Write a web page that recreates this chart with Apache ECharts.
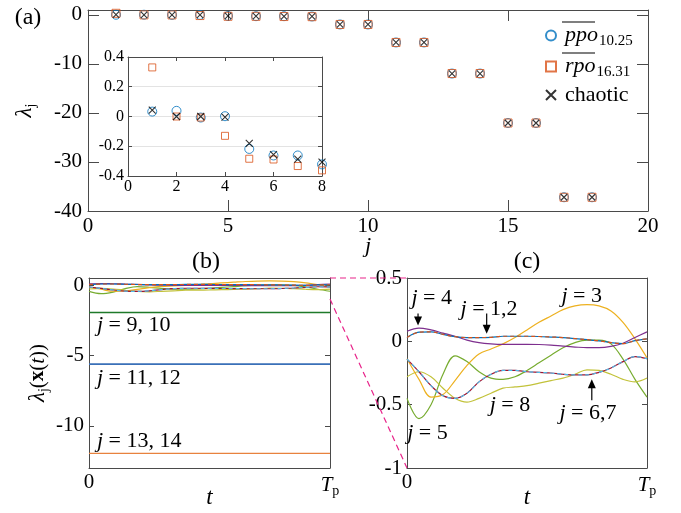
<!DOCTYPE html>
<html><head><meta charset="utf-8">
<script src="https://cdn.jsdelivr.net/npm/echarts@6/dist/echarts.min.js"></script>
<style>html,body{margin:0;padding:0;background:#fff}#c{width:681px;height:513px}</style>
</head><body><div id="c"></div>
<script>
// ---------- data ----------
const jMain = [1,2,3,4,5,6,7,8,9,10,11,12,13,14,15,16,17,18];
const ppoMain = [0.033,0.038,-0.007,0.002,-0.218,-0.262,-0.262,-0.322,-1.95,-1.95,-5.62,-5.62,-11.96,-11.96,-22.05,-22.05,-37.2,-37.2];
const rpoMain = [0.33,0.0,-0.007,-0.13,-0.284,-0.289,-0.333,-0.362,-1.95,-1.95,-5.62,-5.62,-11.96,-11.96,-22.05,-22.05,-37.2,-37.2];
const chaoticMain = [0.043,0.0,0.0,-0.004,-0.18,-0.256,-0.287,-0.306,-1.954,-1.954,-5.621,-5.621,-11.956,-11.956,-22.047,-22.048,-37.197,-37.198];
const jInset = [1,2,3,4,5,6,7,8];

const tGrid = [0,0.05,0.1,0.15,0.2,0.25,0.3,0.35,0.4,0.45,0.5,0.55,0.6,0.65,0.7,0.75,0.8,0.85,0.9,0.95,1];
const lam12 = [0.03,0.072,0.075,0.055,0.037,0.03,0.03,0.032,0.04,0.04,0.04,0.038,0.034,0.03,0.022,0.013,0.004,-0.01,-0.018,0.005,0.02];
const lam3  = [-0.137,-0.3,-0.44,-0.42,-0.31,-0.19,-0.1,-0.06,-0.02,0.03,0.09,0.15,0.2,0.25,0.28,0.29,0.28,0.24,0.15,0.02,-0.13];
const lam4  = [0.08,0.105,0.09,0.065,0.04,0.01,-0.01,-0.02,-0.024,-0.024,-0.024,-0.025,-0.03,-0.038,-0.045,-0.05,-0.05,-0.04,-0.015,0.03,0.075];
const lam5  = [-0.45,-0.61,-0.5,-0.26,-0.115,-0.16,-0.24,-0.29,-0.3,-0.28,-0.23,-0.17,-0.11,-0.05,-0.01,0.01,0.01,-0.02,-0.14,-0.3,-0.44];
const lam67 = [-0.14,-0.24,-0.35,-0.43,-0.45,-0.41,-0.32,-0.26,-0.23,-0.23,-0.24,-0.245,-0.25,-0.26,-0.265,-0.265,-0.245,-0.21,-0.16,-0.12,-0.137];
const lam8  = [-0.28,-0.24,-0.28,-0.37,-0.45,-0.48,-0.45,-0.41,-0.37,-0.36,-0.35,-0.33,-0.31,-0.29,-0.26,-0.225,-0.23,-0.26,-0.3,-0.32,-0.29];
const tFlat = [0,0.5,1];
const lam910  = [-1.95,-1.95,-1.95];
const lam1112 = [-5.62,-5.62,-5.62];
const lam1314 = [-11.96,-11.96,-11.96];

// ---------- style ----------
const F = "'Liberation Serif', 'Times New Roman', serif";
const AX = '#4a4a4a';
const TXT = '#000';
const C = {blue:'#0072BD', orange:'#D95319', yellow:'#EDB120', purple:'#7E2F8E', green:'#77AC30', cyan:'#4DBEEE', dred:'#A2142F', olive:'#C2C23A', dgreen:'#1F7A2A', lblue:'#3A70B8', lorange:'#E8823E'};

const chart = echarts.init(document.getElementById('c'), null, {renderer:'canvas', width:681, height:513});

const subRich = {
  i:{fontFamily:F, fontStyle:'italic', fontSize:21, color:TXT},
  s:{fontFamily:F, fontSize:14, color:TXT, padding:[12,0,0,0]},
  n:{fontFamily:F, fontSize:21, color:TXT},
  b:{fontFamily:F, fontSize:21, fontWeight:'bold', color:TXT},
  l:{fontFamily:F, fontStyle:'italic', fontSize:23, color:TXT}
};
const tpFmt = v => v === 0 ? '{n|0}' : '{i|T}{s|p}';

function xAx(gi, min, max, interval, tickLen, fs, extra) {
  return Object.assign({
    type:'value', gridIndex:gi, min, max, interval,
    axisLine:{show:true, onZero:false, lineStyle:{color:AX, width:1}},
    axisTick:{show:true, inside:true, length:tickLen, lineStyle:{color:AX}},
    axisLabel:{show:true, fontFamily:F, fontSize:fs, color:TXT, margin:5},
    splitLine:{show:false}
  }, extra || {});
}
function yAx(gi, min, max, interval, tickLen, fs, extra) {
  return Object.assign({
    type:'value', gridIndex:gi, min, max, interval,
    axisLine:{show:true, onZero:false, lineStyle:{color:AX, width:1}},
    axisTick:{show:true, inside:true, length:tickLen, lineStyle:{color:AX}},
    axisLabel:{show:true, fontFamily:F, fontSize:fs, color:TXT, margin:6},
    splitLine:{show:false}
  }, extra || {});
}
function mirrorX(gi, min, max, interval, tickLen, custom) {
  const a = xAx(gi, min, max, interval, tickLen, 10, {position:'top'});
  a.axisLabel = {show:false};
  if (custom) a.axisTick.customValues = custom;
  return a;
}
function mirrorY(gi, min, max, interval, tickLen, custom) {
  const a = yAx(gi, min, max, interval, tickLen, 10, {position:'right'});
  a.axisLabel = {show:false};
  if (custom) a.axisTick.customValues = custom;
  return a;
}

const yTicksA = [-40,-30,-20,-10,0];
const yTicksB = [-10,-5,0];
const tName = {name:'t', nameLocation:'middle', nameGap:18, nameMoveOverlap:false,
      nameTextStyle:{fontFamily:F, fontStyle:'italic', fontSize:23, color:TXT, verticalAlign:'top'}};

const xAxis = [
  xAx(0, 0, 20, 5, 11, 21, {name:'j', nameLocation:'middle', nameGap:24, nameMoveOverlap:false,
      nameTextStyle:{fontFamily:F, fontStyle:'italic', fontSize:22, color:TXT, verticalAlign:'top'}}),
  xAx(1, 0, 8, 2, 4, 16, {axisLabel:{fontFamily:F, fontSize:16, color:TXT, margin:3}}),
  xAx(2, 0, 1, 1, 5, 21, Object.assign({}, tName,
      {axisLabel:{fontFamily:F, fontSize:21, color:TXT, margin:4, formatter:tpFmt, rich:subRich}})),
  xAx(3, 0, 1, 1, 5, 21, Object.assign({}, tName,
      {axisLabel:{fontFamily:F, fontSize:21, color:TXT, margin:4, formatter:tpFmt, rich:subRich}})),
  mirrorX(0, 0, 20, 5, 11),
  mirrorX(1, 0, 8, 2, 4),
  mirrorX(2, 0, 1, 1, 5),
  mirrorX(3, 0, 1, 1, 5)
];
const yAxis = [
  yAx(0, -40, 1, 10, 11, 21, {
      axisLabel:{fontFamily:F, fontSize:21, color:TXT, margin:6, customValues:yTicksA},
      axisTick:{show:true, inside:true, length:11, lineStyle:{color:AX}, customValues:yTicksA},
      name:'{l|λ}{s|j}', nameLocation:'middle', nameGap:50, nameMoveOverlap:false,
      nameTextStyle:{rich:subRich}}),
  yAx(1, -0.4, 0.4, 0.2, 4, 16, {
      axisLabel:{fontFamily:F, fontSize:16, color:TXT, margin:4},
      splitLine:{show:true, lineStyle:{color:'#e3e3e3', width:1}}}),
  yAx(2, -13, 0.5, 5, 5, 21, {
      axisLabel:{fontFamily:F, fontSize:21, color:TXT, margin:5, customValues:yTicksB},
      axisTick:{show:true, inside:true, length:5, lineStyle:{color:AX}, customValues:yTicksB},
      name:'{l|λ}{s|j}{n|(}{b|x}{n|(}{i|t}{n|))}', nameLocation:'middle', nameGap:38, nameMoveOverlap:false,
      nameTextStyle:{rich:subRich}}),
  yAx(3, -1, 0.5, 0.5, 5, 21, {
      axisLabel:{fontFamily:F, fontSize:21, color:TXT, margin:5}}),
  mirrorY(0, -40, 1, 10, 11, yTicksA),
  mirrorY(1, -0.4, 0.4, 0.2, 4),
  mirrorY(2, -13, 0.5, 5, 5, yTicksB),
  mirrorY(3, -1, 0.5, 0.5, 5)
];

const grid = [
  {left:88, top:10, width:560, height:201, outerBoundsMode:'none'},
  {left:128, top:57, width:194, height:119, outerBoundsMode:'none'},
  {left:89, top:278, width:241, height:190, outerBoundsMode:'none'},
  {left:407, top:278, width:240, height:190, outerBoundsMode:'none'}
];

const xPath = 'path://M0,0L10,10M10,0L0,10';
function markers(axisIdx, js, sizes, z) {
  return [
    {type:'scatter', name:'ppo', xAxisIndex:axisIdx, yAxisIndex:axisIdx, z,
     data: js.map((j,i)=>[j, ppoMain[i]]), symbol:'circle', symbolSize:sizes[0],
     itemStyle:{color:'rgba(0,0,0,0)', borderColor:C.blue, borderWidth:1}},
    {type:'scatter', name:'rpo', xAxisIndex:axisIdx, yAxisIndex:axisIdx, z,
     data: js.map((j,i)=>[j, rpoMain[i]]), symbol:'rect', symbolSize:sizes[1],
     itemStyle:{color:'rgba(0,0,0,0)', borderColor:C.orange, borderWidth:1}},
    {type:'scatter', name:'chaotic', xAxisIndex:axisIdx, yAxisIndex:axisIdx, z,
     data: js.map((j,i)=>[j, chaoticMain[i]]), symbol:xPath, symbolSize:sizes[2],
     itemStyle:{color:'rgba(0,0,0,0)', borderColor:'#000', borderWidth:1.1}}
  ];
}
function curve(ax, ts, vals, color, dashed, w) {
  return {type:'line', xAxisIndex:ax, yAxisIndex:ax, showSymbol:false, smooth:0.35,
    data: ts.map((t,i)=>[t, vals[i]]),
    lineStyle:{color, width:w||1.2, type: dashed ? [4,3] : 'solid'}, z:3};
}
function curveSet(ax) {
  return [
    curve(ax, tGrid, lam5, C.green),
    curve(ax, tGrid, lam8, C.olive),
    curve(ax, tGrid, lam3, C.yellow),
    curve(ax, tGrid, lam67, C.dred),
    curve(ax, tGrid, lam67, C.cyan, true),
    curve(ax, tGrid, lam4, C.purple),
    curve(ax, tGrid, lam12, C.blue),
    curve(ax, tGrid, lam12, C.orange, true)
  ];
}

const series = [].concat(
  markers(0, jMain, [9,8,6], 2),
  markers(1, jInset, [9,7,7], 6),
  curveSet(2),
  curveSet(3),
  [curve(2, tFlat, lam910, C.dgreen, false, 1.3),
   curve(2, tFlat, lam1112, C.lblue, false, 1.6),
   curve(2, tFlat, lam1314, C.lorange, false, 1.4)]
);

chart.setOption({
  animation:false,
  backgroundColor:'#fff',
  grid, xAxis, yAxis, series,
  legend:{
    data:['ppo','rpo','chaotic'], orient:'vertical', left:540, top:17,
    itemWidth:10, itemHeight:10, itemGap:4, selectedMode:false,
    textStyle:{fontFamily:F, fontSize:21, color:TXT, rich:{
      i:{fontFamily:F, fontStyle:'italic', fontSize:22, color:TXT, lineHeight:28, padding:[0,0,0,4]},
      s:{fontFamily:F, fontSize:15, color:TXT, lineHeight:16, padding:[12,0,0,1]},
      c:{fontFamily:F, fontSize:22, color:TXT, lineHeight:28, padding:[0,0,0,4]}
    }},
    formatter: name => name === 'ppo' ? '{i|ppo}{s|10.25}' : name === 'rpo' ? '{i|rpo}{s|16.31}' : '{c|chaotic}'
  }
});

// ---------- annotations ----------
const px = (ax, p) => chart.convertToPixel({xAxisIndex:ax, yAxisIndex:ax}, p);
const g = [];
function txt(x, y, text, size, align) {
  g.push({type:'text', x, y, z:50, style:{text, fontFamily:F, fontSize:size||21, fill:TXT,
    align:align||'center', verticalAlign:'middle',
    rich:{i:{fontFamily:F, fontStyle:'italic', fontSize:size||21, fill:TXT}}}});
}
function arrow(ax, t, vFrom, vTo) {
  const a = px(ax, [t, vFrom]), b = px(ax, [t, vTo]);
  const dir = b[1] > a[1] ? 1 : -1;
  g.push({type:'line', z:50, shape:{x1:a[0], y1:a[1], x2:b[0], y2:b[1]-dir*7}, style:{stroke:'#000', lineWidth:1.2}});
  g.push({type:'polygon', z:50, shape:{points:[[b[0], b[1]], [b[0]-4, b[1]-dir*9], [b[0]+4, b[1]-dir*9]]}, style:{fill:'#000'}});
}
txt(28, 18, '(a)', 24);
txt(206, 262, '(b)', 24);
txt(527, 262, '(c)', 24);

// panel (b) labels
[[0.033,-2.86,'{i|j} = 9, 10'],[0.033,-6.63,'{i|j} = 11, 12'],[0.033,-11.1,'{i|j} = 13, 14']].forEach(a=>{
  const p = px(2, [a[0], a[1]]); txt(p[0], p[1], a[2], 22, 'left');
});
// panel (c) labels
[[0.103,0.34,'{i|j} = 4'],[0.342,0.253,'{i|j} = 1,2'],[0.728,0.355,'{i|j} = 3'],
 [0.429,-0.505,'{i|j} = 8'],[0.754,-0.568,'{i|j} = 6,7'],[0.085,-0.726,'{i|j} = 5']].forEach(a=>{
  const p = px(3, [a[0], a[1]]); txt(p[0], p[1], a[2], 22, 'center');
});
arrow(3, 0.046, 0.22, 0.125);
arrow(3, 0.332, 0.22, 0.06);
arrow(3, 0.77, -0.465, -0.3);

// zoom connectors from (b) to (c)
const b1 = px(2, [1, 0.5]), b2 = px(2, [1, -1]);
const c1 = px(3, [0, 0.5]), c2 = px(3, [0, -1]);
const pink = {stroke:'#E8248A', lineWidth:1.2, lineDash:[6,4]};
g.push({type:'line', z:60, shape:{x1:b1[0], y1:b1[1], x2:c1[0], y2:c1[1]}, style:pink});
g.push({type:'line', z:60, shape:{x1:b2[0], y1:b2[1], x2:c2[0], y2:c2[1]}, style:pink});

// overlines for legend labels
g.push({type:'line', z:60, shape:{x1:562, y1:22, x2:595, y2:22}, style:{stroke:'#000', lineWidth:1.2}});
g.push({type:'line', z:60, shape:{x1:562, y1:53, x2:595, y2:53}, style:{stroke:'#000', lineWidth:1.2}});

chart.setOption({graphic:g});
</script></body></html>
